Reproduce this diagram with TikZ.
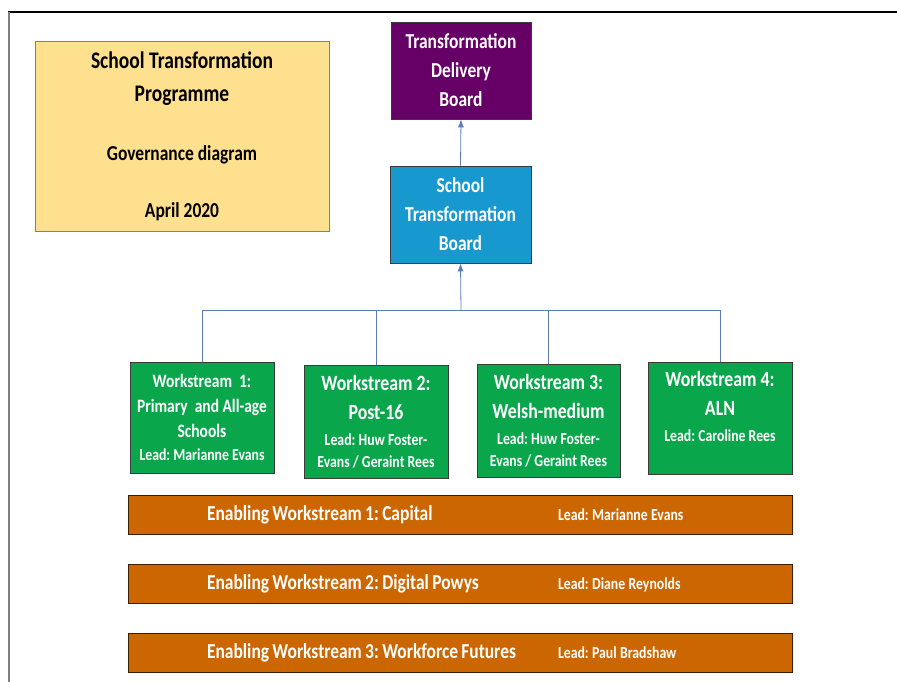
\documentclass[tikz,border=0pt]{standalone}
\usepackage{fontspec}
\setmainfont{Carlito}[FakeStretch=0.82]
\usetikzlibrary{arrows.meta}
\definecolor{yel}{HTML}{FFE08F}
\definecolor{pur}{HTML}{660066}
\definecolor{blu}{HTML}{1799CF}
\definecolor{grn}{HTML}{0AA64C}
\definecolor{org}{HTML}{CC6600}
\definecolor{conn}{HTML}{5B7DB8}
\definecolor{edge}{HTML}{3A3A3A}
\tikzset{
  box/.style={draw=edge, line width=0.8pt, rectangle, inner sep=0pt, align=center, font=\bfseries},
  board/.style={box, text=white, minimum width=140pt, minimum height=97pt, font=\bfseries\fontsize{21.3}{29}\selectfont},
  wsbox/.style={box, fill=grn, text=white, minimum width=144pt, minimum height=112pt},
  enbar/.style={box, fill=org, text=white, minimum width=664pt, minimum height=39pt, text width=664pt, align=left, draw=black!70!org},
  connline/.style={draw=conn, line width=0.8pt},
  arr/.style={connline, -{Latex[length=8pt,width=6pt]}}
}
\newcommand{\leadf}{\fontsize{16.8}{22}\selectfont}
\newcommand{\wsf}{\fontsize{21.7}{29}\selectfont}
\newcommand{\enf}{\fontsize{21.3}{22}\selectfont}
\frenchspacing
\begin{document}
\begin{tikzpicture}[x=1pt,y=-1pt]
\useasboundingbox (0,0) rectangle (897,682);
\draw[black, line width=1.5pt] (8,12) -- (897,12);
\draw[gray, line width=1.2pt] (9,12) -- (9,682);

\node[box, draw=gray, fill=yel, minimum width=294pt, minimum height=190pt, font=\bfseries\fontsize{21.3}{33}\selectfont] (title) at (182,136)
  {{\fontsize{23.8}{33}\selectfont School Transformation}\\
   {\fontsize{23.8}{33}\selectfont Programme}\\[26pt]
   Governance diagram\\[24pt]
   April 2020};

\node[board, fill=pur] (tdb) at (461,70.5) {Transformation\\ Delivery\\ Board};
\node[board, fill=blu, minimum width=141pt] (stb) at (460.5,214.5) {School\\ Transformation\\ Board};

\node[wsbox, minimum height=111pt, font=\bfseries\fontsize{18.9}{25}\selectfont] (ws1) at (202,417.5)
  {Workstream~~1:\\ Primary~ and All-age\\ Schools\\[-2pt] {\leadf Lead: Marianne Evans}};
\node[wsbox, minimum height=113pt, font=\bfseries\wsf] (ws2) at (376,421.5)
  {Workstream 2:\\ Post-16\\[-3pt] {\leadf Lead: Huw Foster-}\\[-7pt] {\leadf Evans / Geraint Rees}};
\node[wsbox, minimum width=143pt, minimum height=113pt, font=\bfseries\wsf] (ws3) at (548.5,420.5)
  {Workstream 3:\\ Welsh-medium\\[-3pt] {\leadf Lead: Huw Foster-}\\[-7pt] {\leadf Evans / Geraint Rees}};
\node[wsbox, font=\bfseries\wsf] (ws4) at (720,418)
  {Workstream 4:\\ ALN\\[-3pt] {\leadf Lead: Caroline Rees}\\[-5pt] \mbox{}};

\node[enbar] (en1) at (460,514.5)
  {\hspace*{79pt}\makebox[351pt][l]{\enf Enabling Workstream 1: Capital}{\leadf Lead: Marianne Evans}};
\node[enbar] (en2) at (460,583.5)
  {\hspace*{79pt}\makebox[351pt][l]{\enf Enabling Workstream 2: Digital Powys}{\leadf Lead: Diane Reynolds}};
\node[enbar] (en3) at (460,652.5)
  {\hspace*{79pt}\makebox[351pt][l]{\enf Enabling Workstream 3: Workforce Futures}{\leadf Lead: Paul Bradshaw}};

\coordinate (bus) at (461,310);
\draw[connline] (ws1.north) |- (bus);
\draw[connline] (ws2.north) |- (bus);
\draw[connline] (ws3.north) |- (bus);
\draw[connline] (ws4.north) |- (bus);
\draw[arr] (bus) -- (stb.south);
\draw[arr] (stb.north) -- (tdb.south);
\end{tikzpicture}
\end{document}
